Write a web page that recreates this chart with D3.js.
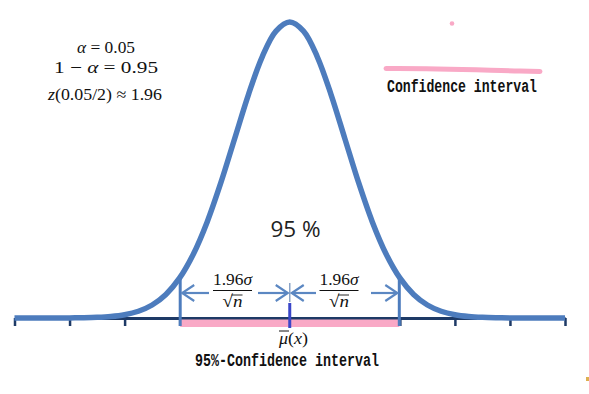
<!DOCTYPE html>
<html><head><meta charset="utf-8">
<script src="https://cdn.jsdelivr.net/npm/d3@7"></script>
<style>body{margin:0;background:#fff}svg{display:block}</style>
</head><body><svg id="c" width="589" height="394"></svg>
<script>
// ---- data ----
const zValues = [-5,-4.75,-4.5,-4.25,-4,-3.75,-3.5,-3.25,-3,-2.75,-2.5,-2.25,-2,-1.75,-1.5,-1.25,-1,-0.75,-0.5,-0.25,0,0.25,0.5,0.75,1,1.25,1.5,1.75,2,2.25,2.5,2.75,3,3.25,3.5,3.75,4,4.25,4.5,4.75,5];
const density = [0,0.00001,0.00002,0.00005,0.00013,0.00035,0.00087,0.00203,0.00443,0.00909,0.01753,0.03174,0.05399,0.08628,0.12952,0.18265,0.24197,0.30114,0.35207,0.38667,0.39894,0.38667,0.35207,0.30114,0.24197,0.18265,0.12952,0.08628,0.05399,0.03174,0.01753,0.00909,0.00443,0.00203,0.00087,0.00035,0.00013,0.00005,0.00002,0.00001,0];
const axisTicks = [-5,-4,-3,-2,-1,0,1,2,3,4,5];
const ciBounds = [-1.99, 1.99];
const ciDensity = 0.056;
const centerZ = 0;
const percentLabel = "95 %";
const topLegend = "Confidence interval";
const bottomLegend = "95%-Confidence interval";
const formulaLines = [
  [["α", true], [" = 0.05", false]],
  [["1 − ", false], ["α", true], [" = 0.95", false]],
  [["z", true], ["(0.05/2) ≈ 1.96", false]]
];
const fracNumerator = [["1.96", false], ["σ", true]];
const fracDenominator = [["√", false], ["n", true]];

// ---- drawing ----
const svg = d3.select("#c");
const x = d3.scaleLinear().domain([-5, 5]).range([14.5, 565]);
const y = d3.scaleLinear().domain([0, 0.39894]).range([318, 22]);

const curveCol = "#4d7cbd", axisCol = "#1e3a66", pink = "#f9a9c6", arrowCol = "#5b87c2";
const serif = "'Liberation Serif','DejaVu Serif',serif";
const mono = "'Liberation Mono','DejaVu Sans Mono',monospace";

function mathText(g, segs, opts) {
  const t = g.append("text").attr("x", opts.x).attr("y", opts.y)
    .attr("font-family", serif).attr("font-size", opts.size).attr("fill", "#111")
    .attr("text-anchor", opts.anchor || "start");
  if (opts.len) t.attr("textLength", opts.len).attr("lengthAdjust", "spacingAndGlyphs");
  segs.forEach(s => t.append("tspan").text(s[0]).attr("font-style", s[1] ? "italic" : "normal"));
  return t;
}

// formulas
const fx = [77, 54, 48], fy = [53, 73, 100], fl = [58, 104, 114];
formulaLines.forEach((segs, i) => mathText(svg, segs, {x: fx[i], y: fy[i], size: 16.5, len: fl[i]}));

// top legend
svg.append("path").attr("d", `M386,68.5 C430,68 480,70 520,71 L540,71.5`)
  .attr("fill", "none").attr("stroke", pink).attr("stroke-width", 5).attr("stroke-linecap", "round");
svg.append("circle").attr("cx", 452).attr("cy", 23.5).attr("r", 2.3).attr("fill", pink);
svg.append("text").attr("x", 387).attr("y", 92).text(topLegend)
  .attr("font-family", mono).attr("font-weight", "bold").attr("font-size", 17.5)
  .attr("textLength", 150).attr("lengthAdjust", "spacingAndGlyphs").attr("fill", "#111");

// axis
const axis = d3.axisBottom(x).tickValues(axisTicks).tickSize(8).tickSizeOuter(0).tickFormat("");
const ag = svg.append("g").attr("transform", "translate(0,318)").call(axis);
ag.select(".domain").attr("stroke", axisCol).attr("stroke-width", 3);
ag.selectAll(".tick line").attr("stroke", axisCol).attr("stroke-width", 2.5);

// pink CI bar
svg.append("rect").attr("x", x(ciBounds[0])).attr("y", 319.5)
  .attr("width", x(ciBounds[1]) - x(ciBounds[0])).attr("height", 7.5).attr("fill", pink);

// curve
const line = d3.line().x((d, i) => x(zValues[i])).y(d => y(d)).curve(d3.curveCatmullRom.alpha(0.5));
svg.append("path").datum(density).attr("d", line)
  .attr("fill", "none").attr("stroke", curveCol).attr("stroke-width", 5.5).attr("stroke-linejoin", "round");

// CI verticals
ciBounds.forEach(b => {
  svg.append("line").attr("x1", x(b)).attr("x2", x(b)).attr("y1", y(ciDensity)).attr("y2", 326)
    .attr("stroke", curveCol).attr("stroke-width", 3);
});

// center marker
svg.append("line").attr("x1", x(centerZ)).attr("x2", x(centerZ)).attr("y1", 303).attr("y2", 328)
  .attr("stroke", "#3a46c8").attr("stroke-width", 3);
svg.append("line").attr("x1", x(centerZ)).attr("x2", x(centerZ)).attr("y1", 283).attr("y2", 302)
  .attr("stroke", "#8aa3c6").attr("stroke-width", 1.5);

// arrows
const ay = 293;
function chevron(tipX, dir) {
  svg.append("path").attr("d", `M${tipX - dir * 12},${ay - 8} L${tipX},${ay} L${tipX - dir * 12},${ay + 8}`)
    .attr("fill", "none").attr("stroke", arrowCol).attr("stroke-width", 2.2);
}
function halfArrow(a, b, gapA, gapB) {
  svg.append("line").attr("x1", a).attr("x2", gapA).attr("y1", ay).attr("y2", ay).attr("stroke", arrowCol).attr("stroke-width", 2.2);
  svg.append("line").attr("x1", gapB).attr("x2", b).attr("y1", ay).attr("y2", ay).attr("stroke", arrowCol).attr("stroke-width", 2.2);
  chevron(a, -1); chevron(b, 1);
}
const xl = x(ciBounds[0]) + 2, xc = x(centerZ), xr = x(ciBounds[1]) - 2;
halfArrow(xl, xc - 2, 209, 258);
halfArrow(xc + 2, xr, 316, 371);

// fraction labels
[[232.5], [339]].forEach(([cx]) => {
  mathText(svg, fracNumerator, {x: cx, y: 285, size: 16, anchor: "middle", len: 39});
  svg.append("line").attr("x1", cx - 19.5).attr("x2", cx + 19.5).attr("y1", 290.5).attr("y2", 290.5)
    .attr("stroke", "#111").attr("stroke-width", 1);
  mathText(svg, fracDenominator, {x: cx, y: 307, size: 17, anchor: "middle", len: 20});
  svg.append("line").attr("x1", cx - 1).attr("x2", cx + 10).attr("y1", 295).attr("y2", 295)
    .attr("stroke", "#111").attr("stroke-width", 0.9);
});

// mu(x)
mathText(svg, [["μ", true], ["(", false], ["x", true], [")", false]], {x: 279, y: 344, size: 16, len: 29});
svg.append("line").attr("x1", 279).attr("x2", 289).attr("y1", 331).attr("y2", 331).attr("stroke", "#111").attr("stroke-width", 1);

// 95 %
svg.append("text").attr("x", 295.5).attr("y", 237).attr("text-anchor", "middle").text(percentLabel)
  .attr("font-family", "'Open Sans','Noto Sans',sans-serif").attr("font-size", 22.5).attr("fill", "#222");

// bottom legend
svg.append("text").attr("x", 195).attr("y", 366).text(bottomLegend)
  .attr("font-family", mono).attr("font-weight", "bold").attr("font-size", 17.5)
  .attr("textLength", 184).attr("lengthAdjust", "spacingAndGlyphs").attr("fill", "#111");

// small corner mark
svg.append("rect").attr("x", 586).attr("y", 377).attr("width", 3).attr("height", 4).attr("fill", "#ddb050");
</script></body></html>
